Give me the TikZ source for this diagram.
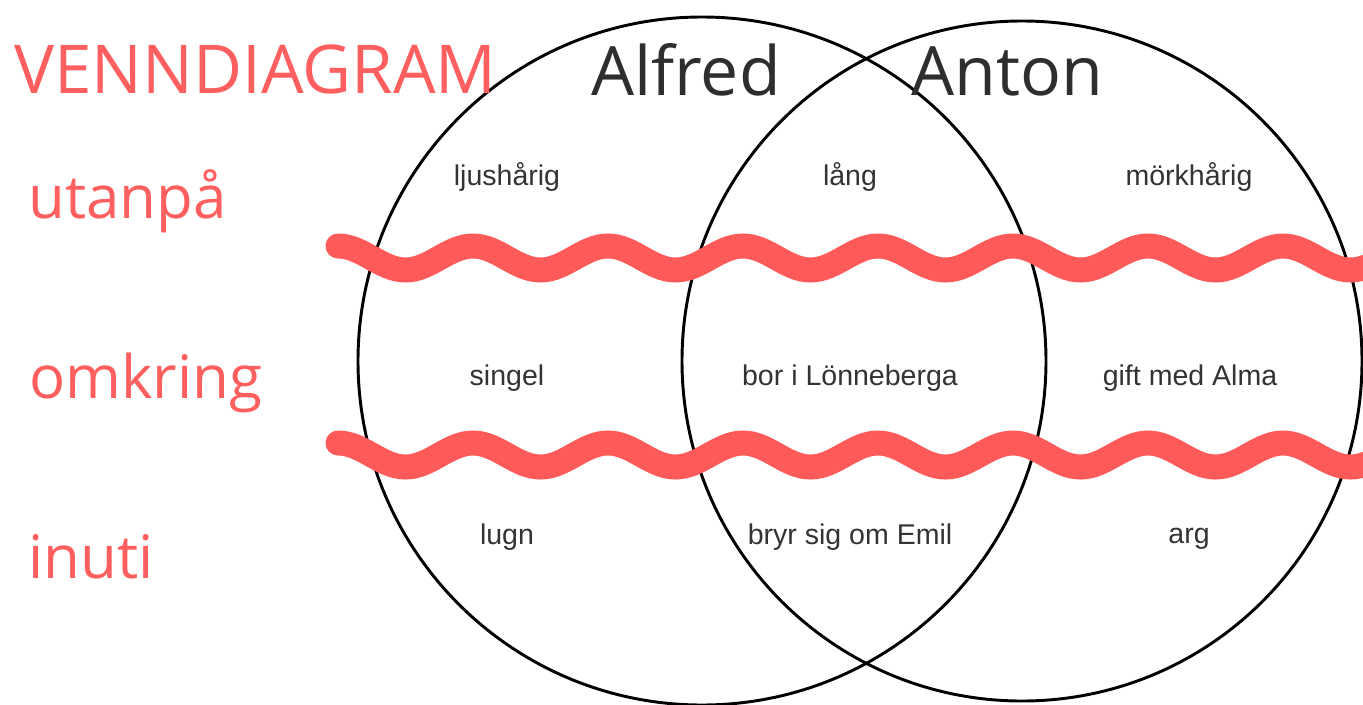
\documentclass[tikz,border=0pt]{standalone}
\usepackage{fontspec}
\setmainfont{Liberation Sans}
\newfontfamily\handfont{Open Sans}
\definecolor{wavered}{HTML}{FF5A5A}
\definecolor{titlered}{HTML}{FF5F5F}
\definecolor{bodytext}{HTML}{333333}
\definecolor{namegray}{HTML}{2E2E2E}
\begin{document}
\begin{tikzpicture}[x=0.75pt,y=-0.75pt,
  venn/.style={circle,draw=black,line width=2.2pt,inner sep=0pt},
  wavyline/.style={draw=wavered,line width=18.75pt,line cap=round},
  itemtext/.style={font=\fontsize{21.4}{24}\selectfont,text=bodytext,anchor=base,inner sep=0pt},
  rowlabel/.style={font=\handfont\fontsize{45}{50}\selectfont,text=titlered,anchor=base west,inner sep=0pt},
  personlabel/.style={font=\handfont\fontsize{51}{56}\selectfont,text=namegray,anchor=base west,inner sep=0pt},
  titlelabel/.style={font=\handfont\fontsize{50.5}{56}\selectfont,text=titlered,anchor=base west,inner sep=0pt}]
\useasboundingbox (0,0) rectangle (1363,704);
\fill[white] (0,0) rectangle (1363,704);
\clip (0,0) rectangle (1363,704);
% circles
\node[venn,minimum size=516pt] (alfredc) at (702,361) {};
\node[venn,minimum size=510pt] (antonc) at (1022,361) {};
% wavy separators
\draw[wavyline] (338,246) \foreach \i in {1,...,8} { cos ++(33.75,12) sin ++(33.75,12) cos ++(33.75,-12) sin ++(33.75,-12) };
\draw[wavyline] (338,443) \foreach \i in {1,...,8} { cos ++(33.75,12) sin ++(33.75,12) cos ++(33.75,-12) sin ++(33.75,-12) };
% titles
\node[titlelabel] (title) at (14,93) {VENNDIAGRAM};
\node[personlabel] (alfred) at (591,95) {Alfred};
\node[personlabel] (anton) at (911,95) {Anton};
\node[rowlabel] (utanpa) at (28,218) {utanpå};
\node[rowlabel] (omkring) at (29,398) {omkring};
\node[rowlabel] (inuti) at (28,578) {inuti};
% items
\node[itemtext] (t1) at (507,185) {ljushårig};
\node[itemtext] (t2) at (850,185) {lång};
\node[itemtext] (t3) at (1189,185) {mörkhårig};
\node[itemtext] (m1) at (507,385) {singel};
\node[itemtext] (m2) at (850,385) {bor i Lönneberga};
\node[itemtext] (m3) at (1190,385) {gift med Alma};
\node[itemtext] (b1) at (507,544) {lugn};
\node[itemtext] (b2) at (850,544) {bryr sig om Emil};
\node[itemtext] (b3) at (1189,543) {arg};
\end{tikzpicture}
\end{document}
